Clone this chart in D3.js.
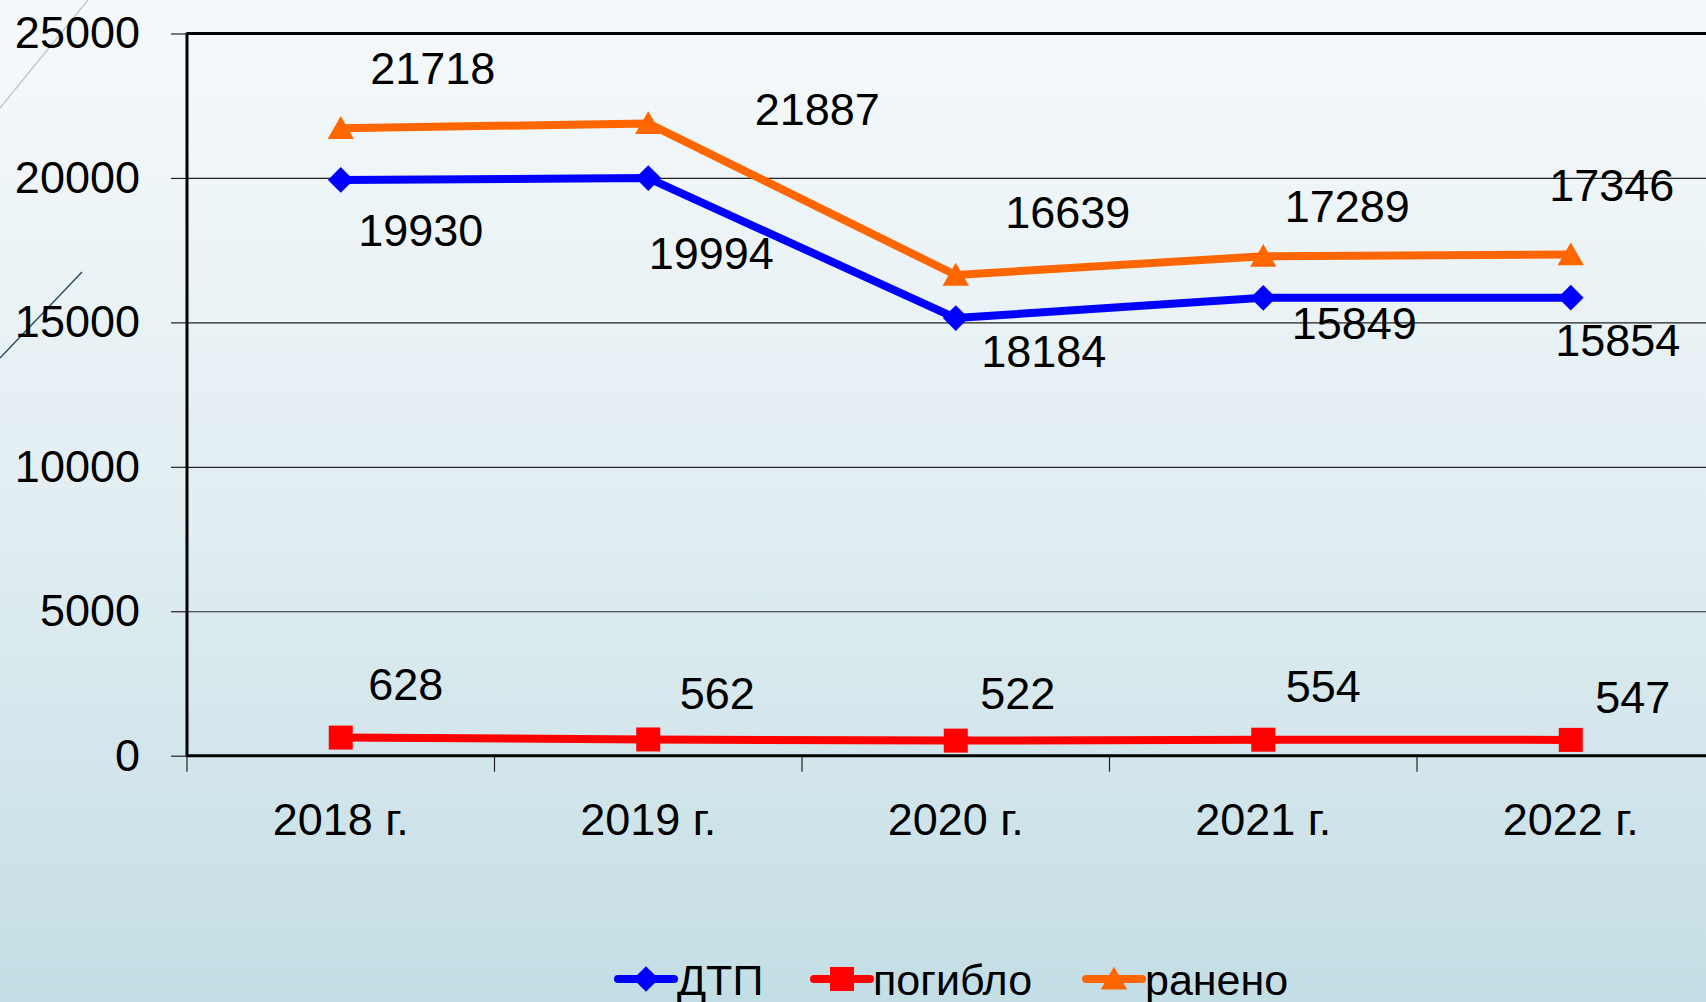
<!DOCTYPE html>
<meta charset="utf-8">
<html>
<head>
  <title>ДТП 2018-2022</title>
  <style>
    body { margin: 0; overflow: hidden; }
    svg { display: block; width: 1706px; height: 1002px; }
    text { font-family: 'Liberation Sans', Arial, sans-serif; fill: #000; }
    .tick text { font-size: 45px; }
    .lbl { font-size: 45px; text-anchor: middle; }
    .legend text { font-size: 43px; }
  </style>
  <script src="https://d3js.org/d3.v7.min.js"></script>
</head>
<body>
  <svg></svg>
  <script>
    // data
    var years = ["2018 г.", "2019 г.", "2020 г.", "2021 г.", "2022 г."];
    var dtp = [19930, 19994, 15150, 15849, 15854];
    var dtpLabels = ["19930", "19994", "18184", "15849", "15854"];
    var killed = [628, 562, 522, 554, 547];
    var killedLabels = ["628", "562", "522", "554", "547"];
    var injured = [21718, 21887, 16639, 17289, 17346];
    var injuredLabels = ["21718", "21887", "16639", "17289", "17346"];
    var yTicks = [0, 5000, 10000, 15000, 20000, 25000];

    // label nudges (px) as placed by hand in the original
    var dtpNudge = [[80, 50], [63, 75], [88, 33], [91, 25], [47, 42]];
    var killedNudge = [[65, -54], [69, -47], [62, -48], [60, -54], [62, -43]];
    var injuredNudge = [[92, -61], [169, -15], [112, -63], [84, -50], [41, -70]];

    var W = 1706, H = 1002;
    var svg = d3.select("svg");

    // background gradient
    var defs = svg.append("defs");
    var grad = defs.append("linearGradient").attr("id", "bg")
      .attr("x1", 0).attr("y1", 0).attr("x2", 0).attr("y2", 1);
    grad.append("stop").attr("offset", "0%").attr("stop-color", "#f6f9fb");
    grad.append("stop").attr("offset", "50%").attr("stop-color", "#e2eef2");
    grad.append("stop").attr("offset", "100%").attr("stop-color", "#c4dee5");
    svg.append("rect").attr("width", W).attr("height", H).attr("fill", "url(#bg)");

    // template decoration lines
    svg.append("line").attr("x1", 0).attr("y1", 108).attr("x2", 88).attr("y2", 0)
      .attr("stroke", "#c3cbd0").attr("stroke-width", 1.5);
    svg.append("line").attr("x1", 0).attr("y1", 358).attr("x2", 82).attr("y2", 272)
      .attr("stroke", "#2d4d63").attr("stroke-width", 1.5);

    var plotLeft = 187, plotTop = 33.5, plotBottom = 755.7;
    var bandW = 307.5;

    var x = d3.scaleBand().domain(years).range([plotLeft, plotLeft + bandW * years.length]).padding(0);
    var y = d3.scaleLinear().domain([0, 25000]).range([plotBottom, plotTop]);
    var cx = function(i) { return x(years[i]) + x.bandwidth() / 2; };

    // gridlines
    svg.append("g")
      .attr("transform", "translate(" + plotLeft + ",0)")
      .call(d3.axisLeft(y).tickValues(yTicks).tickSize(-(W - plotLeft)).tickFormat(""))
      .call(function(g) {
        g.select(".domain").remove();
        g.selectAll("line").attr("stroke", "#222").attr("stroke-width", 1.2);
      });

    // y axis ticks and labels
    svg.append("g")
      .attr("transform", "translate(" + plotLeft + ",0)")
      .call(d3.axisLeft(y).tickValues(yTicks).tickSize(16).tickPadding(31).tickFormat(d3.format("d")))
      .call(function(g) {
        g.select(".domain").remove();
        g.selectAll("line").attr("stroke", "#222").attr("stroke-width", 1.2);
        g.selectAll("text").attr("font-family", null).attr("font-size", null);
      });

    // plot frame: left and top
    svg.append("line").attr("x1", plotLeft).attr("x2", plotLeft).attr("y1", plotTop - 1).attr("y2", plotBottom + 1)
      .attr("stroke", "#000").attr("stroke-width", 3);
    svg.append("line").attr("x1", plotLeft).attr("x2", W).attr("y1", plotTop).attr("y2", plotTop)
      .attr("stroke", "#000").attr("stroke-width", 3);

    // x axis with boundary ticks
    var bounds = years.map(function(d) { return x(d); }).concat([x.range()[1]]);
    svg.append("g").selectAll("line").data(bounds).enter().append("line")
      .attr("x1", function(d) { return d; }).attr("x2", function(d) { return d; })
      .attr("y1", plotBottom).attr("y2", plotBottom + 16)
      .attr("stroke", "#222").attr("stroke-width", 1.2);
    svg.append("line").attr("x1", plotLeft).attr("x2", W).attr("y1", plotBottom).attr("y2", plotBottom)
      .attr("stroke", "#000").attr("stroke-width", 3);

    svg.append("g")
      .attr("transform", "translate(0," + plotBottom + ")")
      .call(d3.axisBottom(x).tickSize(0).tickPadding(47))
      .call(function(g) {
        g.select(".domain").remove();
        g.selectAll("text").attr("font-family", null).attr("font-size", null);
      });

    // series; the diamond is a square turned by 45 degrees
    var series = [
      { values: dtp, labels: dtpLabels, nudge: dtpNudge, color: "#0000ff", sym: d3.symbolSquare, size: 330, rot: 45, dy: 0, name: "ДТП" },
      { values: killed, labels: killedLabels, nudge: killedNudge, color: "#ff0000", sym: d3.symbolSquare, size: 576, rot: 0, dy: 0, name: "погибло" },
      { values: injured, labels: injuredLabels, nudge: injuredNudge, color: "#ff6600", sym: d3.symbolTriangle, size: 300, rot: 0, dy: 3, name: "ранено" }
    ];

    var line = d3.line()
      .x(function(d, i) { return cx(i); })
      .y(function(d) { return y(d); });

    series.forEach(function(s) {
      svg.append("path")
        .attr("d", line(s.values))
        .attr("fill", "none")
        .attr("stroke", s.color)
        .attr("stroke-width", 8)
        .attr("stroke-linejoin", "round");

      svg.append("g").selectAll("path").data(s.values).enter().append("path")
        .attr("d", d3.symbol().type(s.sym).size(s.size))
        .attr("transform", function(d, i) {
          return "translate(" + cx(i) + "," + (y(d) + s.dy) + ") rotate(" + s.rot + ")";
        })
        .attr("fill", s.color);

      svg.append("g").selectAll("text").data(s.values).enter().append("text")
        .attr("class", "lbl")
        .attr("x", function(d, i) { return cx(i) + s.nudge[i][0]; })
        .attr("y", function(d, i) { return y(d) + s.nudge[i][1]; })
        .attr("dy", "0.36em")
        .text(function(d, i) { return s.labels[i]; });
    });

    // legend
    var legendX = [618, 814, 1086];
    var legendY = 979;
    var lg = svg.append("g").attr("class", "legend");
    series.forEach(function(s, i) {
      var g = lg.append("g").attr("transform", "translate(" + legendX[i] + "," + legendY + ")");
      g.append("line").attr("x1", 0).attr("x2", 56).attr("y1", 0).attr("y2", 0)
        .attr("stroke", s.color).attr("stroke-width", 8).attr("stroke-linecap", "round");
      g.append("path")
        .attr("d", d3.symbol().type(s.sym).size(s.size))
        .attr("transform", "translate(28," + s.dy + ") rotate(" + s.rot + ")")
        .attr("fill", s.color);
      g.append("text").attr("x", 59).attr("y", 16).text(s.name);
    });
  </script>
</body>
</html>
